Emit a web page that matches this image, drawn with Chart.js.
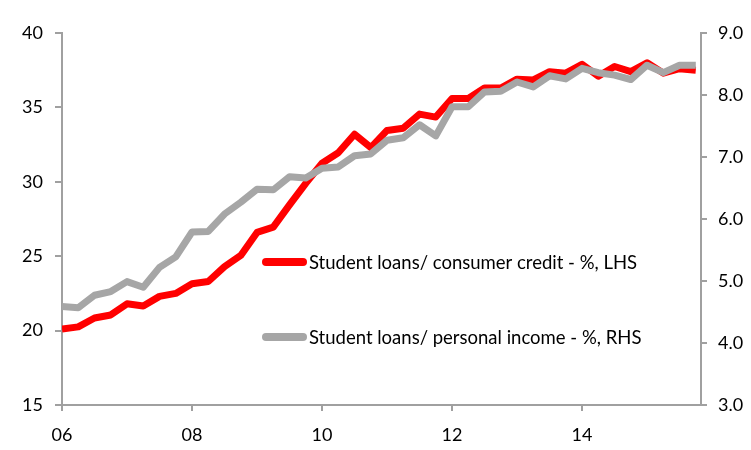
<!DOCTYPE html>
<html>
<head>
<meta charset="utf-8">
<script src="https://cdn.jsdelivr.net/npm/chart.js@4/dist/chart.umd.min.js"></script>
<style>
  html, body { margin: 0; padding: 0; background: #fff; }
  #wrap { width: 751px; height: 450px; }
</style>
</head>
<body>
<div id="wrap"><canvas id="c" width="751" height="450"></canvas></div>
<script>
// ---- Data ----
const quarters = [
  2006.00, 2006.25, 2006.50, 2006.75, 2007.00, 2007.25, 2007.50, 2007.75,
  2008.00, 2008.25, 2008.50, 2008.75, 2009.00, 2009.25, 2009.50, 2009.75,
  2010.00, 2010.25, 2010.50, 2010.75, 2011.00, 2011.25, 2011.50, 2011.75,
  2012.00, 2012.25, 2012.50, 2012.75, 2013.00, 2013.25, 2013.50, 2013.75,
  2014.00, 2014.25, 2014.50, 2014.75, 2015.00, 2015.25, 2015.50, 2015.75
];
const consumerCreditShare = [
  20.1, 20.25, 20.85, 21.05, 21.8, 21.65, 22.3, 22.5,
  23.15, 23.3, 24.3, 25.05, 26.6, 26.95, 28.45, 29.9,
  31.25, 31.95, 33.2, 32.3, 33.45, 33.6, 34.55, 34.35,
  35.6, 35.6, 36.3, 36.3, 36.9, 36.85, 37.4, 37.3,
  37.9, 37.1, 37.75, 37.4, 38.0, 37.3, 37.6, 37.5
];
const personalIncomeShare = [
  4.59, 4.57, 4.77, 4.83, 4.99, 4.90, 5.22, 5.39,
  5.79, 5.80, 6.08, 6.27, 6.48, 6.47, 6.68, 6.66,
  6.82, 6.84, 7.02, 7.05, 7.27, 7.31, 7.52, 7.34,
  7.81, 7.81, 8.05, 8.06, 8.21, 8.13, 8.31, 8.26,
  8.43, 8.36, 8.32, 8.25, 8.48, 8.36, 8.48, 8.48
];
const xTickYears = [2006, 2008, 2010, 2012, 2014];
const leftTicks = [15, 20, 25, 30, 35, 40];
const rightTicks = [3, 4, 5, 6, 7, 8, 9];
const seriesLabels = [
  'Student loans/ consumer credit - %, LHS',
  'Student loans/ personal income - %, RHS'
];

// ---- Styling ----
const RED = '#ff0000';
const GREY = '#a6a6a6';
const AXIS = '#a0a0a0';
const FONT = { family: 'Lato, "Open Sans", sans-serif', size: 18 };
const LEGEND_FONT_SIZE = 18.5;

const toPoints = (vals) => vals.map((v, i) => ({ x: quarters[i], y: v }));

// Legend drawn inside the plot area
const innerLegend = {
  id: 'innerLegend',
  afterDatasetsDraw(chart) {
    const ctx = chart.ctx;
    const spots = [{ y: 262 }, { y: 337 }];
    const x1 = 266, x2 = 303, tx = 309;
    chart.data.datasets.forEach((ds) => {
      const s = spots[ds.legendSlot];
      ctx.save();
      ctx.strokeStyle = ds.borderColor;
      ctx.lineWidth = 8;
      ctx.lineCap = 'round';
      ctx.beginPath();
      ctx.moveTo(x1, s.y);
      ctx.lineTo(x2, s.y);
      ctx.stroke();
      ctx.fillStyle = '#000';
      ctx.font = `${LEGEND_FONT_SIZE}px ${FONT.family}`;
      ctx.textBaseline = 'middle';
      ctx.textAlign = 'left';
      ctx.fillText(ds.label, tx, s.y + 1);
      ctx.restore();
    });
  }
};

new Chart(document.getElementById('c'), {
  type: 'line',
  data: {
    datasets: [
      {
        label: seriesLabels[0],
        data: toPoints(consumerCreditShare),
        yAxisID: 'yL',
        borderColor: RED,
        backgroundColor: RED,
        borderWidth: 7,
        pointRadius: 0,
        tension: 0,
        borderJoinStyle: 'round',
        borderCapStyle: 'butt',
        order: 2,
        legendSlot: 0
      },
      {
        label: seriesLabels[1],
        data: toPoints(personalIncomeShare),
        yAxisID: 'yR',
        borderColor: GREY,
        backgroundColor: GREY,
        borderWidth: 7,
        pointRadius: 0,
        tension: 0,
        borderJoinStyle: 'round',
        borderCapStyle: 'butt',
        order: 1,
        legendSlot: 1
      }
    ]
  },
  options: {
    responsive: false,
    animation: false,
    devicePixelRatio: 1,
    layout: { padding: { top: 33, left: 0, right: 0, bottom: 0 } },
    plugins: {
      legend: { display: false },
      tooltip: { enabled: false }
    },
    scales: {
      x: {
        type: 'linear',
        min: 2006,
        max: 2015.83,
        afterBuildTicks: (s) => { s.ticks = xTickYears.map(v => ({ value: v })); },
        afterFit: (s) => { s.height = 45; },
        ticks: {
          color: '#000',
          font: FONT,
          padding: 13,
          maxRotation: 0,
          callback: (v) => String(v).slice(2)
        },
        grid: { drawOnChartArea: false, drawTicks: true, tickLength: 6, color: AXIS, lineWidth: 2 },
        border: { display: true, color: AXIS, width: 2 }
      },
      yL: {
        type: 'linear',
        position: 'left',
        min: 15,
        max: 40,
        afterBuildTicks: (s) => { s.ticks = leftTicks.map(v => ({ value: v })); },
        afterFit: (s) => { s.width = 62; },
        ticks: { color: '#000', font: FONT, padding: 12 },
        grid: { drawOnChartArea: false, drawTicks: true, tickLength: 7, color: AXIS, lineWidth: 2 },
        border: { display: true, color: AXIS, width: 2 }
      },
      yR: {
        type: 'linear',
        position: 'right',
        min: 3,
        max: 9,
        afterBuildTicks: (s) => { s.ticks = rightTicks.map(v => ({ value: v })); },
        afterFit: (s) => { s.width = 50; },
        ticks: { color: '#000', font: FONT, padding: 11, callback: (v) => Number(v).toFixed(1) },
        grid: { drawOnChartArea: false, drawTicks: true, tickLength: 6, color: AXIS, lineWidth: 2 },
        border: { display: true, color: AXIS, width: 2 }
      }
    }
  },
  plugins: [innerLegend]
});
</script>
</body>
</html>
